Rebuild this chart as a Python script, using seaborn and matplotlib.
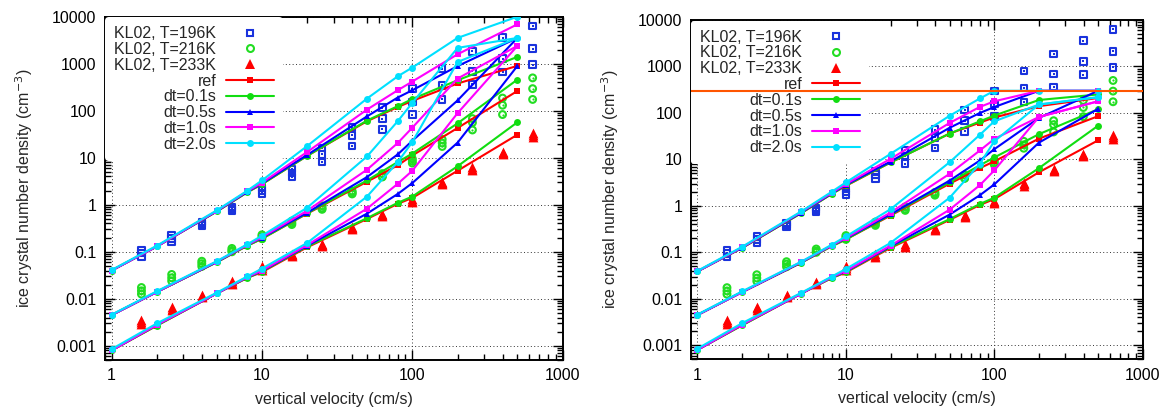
import numpy as np
import pandas as pd
import matplotlib
matplotlib.use("Agg")
import matplotlib.pyplot as plt
import seaborn as sns
from matplotlib.lines import Line2D
from matplotlib.ticker import FixedLocator, FixedFormatter, LogLocator, NullFormatter

sns.set_theme(style="ticks")
plt.rcParams["font.family"] = ["Liberation Sans", "DejaVu Sans"]

# ---------------- data ----------------
velocity = [1, 2, 5, 8, 10, 20, 50, 80, 100, 200, 500]
series_names = ["ref", "dt=0.1s", "dt=0.5s", "dt=1.0s", "dt=2.0s"]
temps = ["196K", "216K", "233K"]

# left panel (no cap)
ref_L_196 = [0.040, 0.13, 0.72, 1.85, 2.75, 11.0, 60, 120, 162, 380, 900]
dt01_L_196 = [0.040, 0.13, 0.72, 1.85, 2.75, 11.0, 62, 125, 178, 445, 1400]
dt05_L_196 = [0.040, 0.13, 0.73, 1.9, 2.85, 11.5, 76, 191, 273, 890, 3540]
dt10_L_196 = [0.040, 0.13, 0.74, 1.95, 2.95, 13.3, 106, 273, 418, 1590, 6900]
dt20_L_196 = [0.041, 0.135, 0.76, 2.0, 3.3, 17.8, 182, 540, 830, 3540, 10000]

ref_L_216 = [0.0045, 0.014, 0.06, 0.135, 0.19, 0.65, 3.1, 6.9, 11.2, 43, 264]
dt01_L_216 = [0.0045, 0.014, 0.06, 0.135, 0.19, 0.66, 3.3, 8.1, 12.3, 54, 460]
dt05_L_216 = [0.0045, 0.014, 0.061, 0.14, 0.20, 0.68, 3.9, 11.8, 23, 166, 3540]
dt10_L_216 = [0.0045, 0.014, 0.062, 0.14, 0.205, 0.75, 5.6, 20.6, 43.7, 484, 2400]
dt20_L_216 = [0.0046, 0.0145, 0.063, 0.145, 0.22, 0.87, 10.7, 60, 147, 2170, 3540]

ref_L_233 = [0.0008, 0.0027, 0.013, 0.028, 0.037, 0.125, 0.5, 1.05, 1.4, 5.3, 31]
dt01_L_233 = [0.0008, 0.0027, 0.013, 0.028, 0.038, 0.13, 0.52, 1.1, 1.5, 6.6, 57]
dt05_L_233 = [0.0008, 0.0028, 0.013, 0.029, 0.039, 0.135, 0.65, 1.7, 2.9, 21, 900]
dt10_L_233 = [0.0008, 0.0028, 0.013, 0.029, 0.040, 0.14, 0.83, 2.8, 5.3, 89, 2400]
dt20_L_233 = [0.00085, 0.003, 0.0135, 0.03, 0.044, 0.155, 1.5, 8.1, 21.6, 1090, 3540]

# right panel (with cap)
ref_R_196 = [0.039, 0.125, 0.70, 1.8, 2.7, 8.6, 36, 62, 80, 140, 210]
dt01_R_196 = [0.039, 0.125, 0.70, 1.8, 2.75, 8.6, 36, 66, 88, 190, 250]
dt05_R_196 = [0.039, 0.127, 0.72, 1.85, 2.85, 9.0, 48, 100, 134, 300, 300]
dt10_R_196 = [0.039, 0.128, 0.74, 1.9, 2.95, 10.3, 61, 135, 178, 300, 300]
dt20_R_196 = [0.040, 0.132, 0.76, 2.0, 3.2, 13.2, 87, 205, 300, 300, 300]

ref_R_216 = [0.0045, 0.014, 0.06, 0.135, 0.19, 0.62, 3.0, 6.5, 9.1, 28, 85]
dt01_R_216 = [0.0045, 0.014, 0.06, 0.135, 0.19, 0.64, 3.2, 7.5, 11, 35, 120]
dt05_R_216 = [0.0045, 0.014, 0.061, 0.14, 0.2, 0.66, 3.5, 9.5, 16.6, 78, 300]
dt10_R_216 = [0.0045, 0.014, 0.062, 0.14, 0.205, 0.72, 4.9, 15.6, 27.6, 82, 178]
dt20_R_216 = [0.0046, 0.0145, 0.063, 0.145, 0.22, 0.85, 8.7, 34, 66, 152, 218]

ref_R_233 = [0.0008, 0.0027, 0.013, 0.028, 0.037, 0.125, 0.5, 1.05, 1.4, 5.3, 25.7]
dt01_R_233 = [0.0008, 0.0027, 0.013, 0.028, 0.038, 0.13, 0.52, 1.1, 1.5, 6.5, 53]
dt05_R_233 = [0.0008, 0.0028, 0.013, 0.029, 0.039, 0.135, 0.65, 1.7, 2.9, 23, 122]
dt10_R_233 = [0.0008, 0.0028, 0.013, 0.029, 0.040, 0.14, 0.83, 2.8, 5.8, 82, 178]
dt20_R_233 = [0.00085, 0.003, 0.0135, 0.03, 0.044, 0.16, 1.5, 8.1, 24.5, 152, 218]

cap_value = 300

# KL02 reference data
kl_velocity = [1.58, 2.51, 3.98, 6.31, 10, 15.8, 25.1, 39.8, 63.1, 100, 158, 251, 398, 631]
kl196_hi = [0.11, 0.22, 0.43, 0.90, 2.3, 5.7, 16, 44, 117, 294, 790, 1840, 3600, 6300]
kl196_mid = [0.095, 0.19, 0.40, 0.83, 2.0, 4.7, 11.8, 30, 68, 154, 345, 690, 1290, 2100]
kl196_lo = [0.08, 0.16, 0.36, 0.76, 1.75, 3.9, 8.1, 17.7, 40, 83, 174, 363, 670, 960]
kl216_hi = [0.0174, 0.033, 0.063, 0.118, 0.23, 0.45, 0.95, 1.95, 4.6, 9.5, 24.5, 68, 186, 500]
kl216_mid = [0.0148, 0.028, 0.056, 0.107, 0.21, 0.41, 0.85, 1.8, 4.0, 8.5, 20.6, 56, 131, 295]
kl216_lo = [0.0126, 0.024, 0.049, 0.100, 0.19, 0.38, 0.80, 1.7, 3.9, 7.7, 17.4, 39, 83, 174]
kl233_hi = [0.0035, 0.0067, 0.0123, 0.0234, 0.051, 0.09, 0.15, 0.34, 0.65, 1.3, 3.1, 6.3, 13.2, 34]
kl233_mid = [0.0032, 0.0062, 0.0116, 0.022, 0.046, 0.085, 0.14, 0.32, 0.61, 1.22, 2.9, 5.9, 12.4, 30]
kl233_lo = [0.0029, 0.0057, 0.011, 0.021, 0.041, 0.08, 0.13, 0.30, 0.58, 1.15, 2.7, 5.5, 11.8, 27]

y_ticks = [0.001, 0.01, 0.1, 1, 10, 100, 1000, 10000]
y_tick_labels = ["0.001", "0.01", "0.1", "1", "10", "100", "1000", "10000"]
x_ticks = [1, 10, 100, 1000]
x_tick_labels = ["1", "10", "100", "1000"]

# ---------------- tables ----------------
model = {
    "L": {"196K": [ref_L_196, dt01_L_196, dt05_L_196, dt10_L_196, dt20_L_196],
          "216K": [ref_L_216, dt01_L_216, dt05_L_216, dt10_L_216, dt20_L_216],
          "233K": [ref_L_233, dt01_L_233, dt05_L_233, dt10_L_233, dt20_L_233]},
    "R": {"196K": [ref_R_196, dt01_R_196, dt05_R_196, dt10_R_196, dt20_R_196],
          "216K": [ref_R_216, dt01_R_216, dt05_R_216, dt10_R_216, dt20_R_216],
          "233K": [ref_R_233, dt01_R_233, dt05_R_233, dt10_R_233, dt20_R_233]},
}
rows = []
for panel, groups in model.items():
    for t, lists in groups.items():
        for name, vals in zip(series_names, lists):
            for v, n in zip(velocity, vals):
                rows.append(dict(panel=panel, temp=t, series=name, v=v, n=n))
df = pd.DataFrame(rows)

kl_rows = []
for t, sets in zip(temps, [[kl196_hi, kl196_mid, kl196_lo],
                           [kl216_hi, kl216_mid, kl216_lo],
                           [kl233_hi, kl233_mid, kl233_lo]]):
    for s in sets:
        for v, n in zip(kl_velocity, s):
            kl_rows.append(dict(temp=t, v=v, n=n))
kl = pd.DataFrame(kl_rows)

# ---------------- style ----------------
line_colors = {"ref": "#ff0000", "dt=0.1s": "#11dd11", "dt=0.5s": "#0000ff",
               "dt=1.0s": "#ff00ff", "dt=2.0s": "#00e0ff"}
line_markers = {"ref": "s", "dt=0.1s": "o", "dt=0.5s": "^", "dt=1.0s": "s", "dt=2.0s": "o"}
kl_colors = {"196K": "#1a33dd", "216K": "#22dd22", "233K": "#ff0000"}

W, H = 1164, 408
fig = plt.figure(figsize=(W / 100, H / 100), dpi=100)
axL = fig.add_axes([104.7 / W, 1 - 360 / H, (562.7 - 104.7) / W, (360 - 16.7) / H])
axR = fig.add_axes([690.7 / W, 1 - 359.3 / H, (1142.7 - 690.7) / W, (359.3 - 20) / H])

FS = 11.5


def draw(ax, panel, cap=None):
    ax.set_xscale("log")
    ax.set_yscale("log")
    ax.set_xlim(0.9, 1000)
    ax.set_ylim(0.0005, 10000)
    ax.set_axisbelow(True)
    ax.grid(which="major", color="#333333", ls=(0, (1, 2.5)), lw=0.7)

    # KL02 data
    sub = kl[kl.temp == "196K"]
    sns.scatterplot(data=sub, x="v", y="n", marker="s", s=22, facecolor="none",
                    edgecolor=kl_colors["196K"], linewidth=1.5, ax=ax, legend=False, zorder=3)
    sns.scatterplot(data=sub, x="v", y="n", marker="s", s=2.5, color=kl_colors["196K"],
                    linewidth=0, ax=ax, legend=False, zorder=3)
    sub = kl[kl.temp == "216K"]
    sns.scatterplot(data=sub, x="v", y="n", marker="o", s=24, facecolor="none",
                    edgecolor=kl_colors["216K"], linewidth=1.5, ax=ax, legend=False, zorder=3)
    sns.scatterplot(data=sub, x="v", y="n", marker="o", s=2.5, color=kl_colors["216K"],
                    linewidth=0, ax=ax, legend=False, zorder=3)
    sub = kl[kl.temp == "233K"]
    sns.scatterplot(data=sub, x="v", y="n", marker="^", s=50, color=kl_colors["233K"],
                    linewidth=0, ax=ax, legend=False, zorder=3)

    # model lines
    d = df[df.panel == panel]
    sns.lineplot(data=d, x="v", y="n", hue="series", style="series", units="temp",
                 estimator=None, hue_order=series_names, style_order=series_names,
                 palette=line_colors, markers=line_markers, dashes=False,
                 lw=1.5, markersize=5, markeredgewidth=0, sort=False,
                 legend=False, ax=ax, zorder=4)

    if cap is not None:
        ax.axhline(cap, color="#ff5500", lw=1.5, zorder=7)

    ax.xaxis.set_major_locator(FixedLocator(x_ticks))
    ax.xaxis.set_major_formatter(FixedFormatter(x_tick_labels))
    ax.yaxis.set_major_locator(FixedLocator(y_ticks))
    ax.yaxis.set_major_formatter(FixedFormatter(y_tick_labels))
    ax.xaxis.set_minor_locator(LogLocator(base=10, subs=np.arange(2, 10), numticks=20))
    ax.yaxis.set_minor_locator(LogLocator(base=10, subs=np.arange(2, 10), numticks=20))
    ax.xaxis.set_minor_formatter(NullFormatter())
    ax.yaxis.set_minor_formatter(NullFormatter())
    ax.tick_params(which="both", direction="in", top=True, right=True,
                   labelsize=FS, colors="black", width=1.0, pad=6)
    ax.tick_params(which="major", length=7)
    ax.tick_params(which="minor", length=4)
    for sp in ax.spines.values():
        sp.set_linewidth(1.4)
        sp.set_color("black")
    ax.set_xlabel("vertical velocity (cm/s)", fontsize=FS, labelpad=6)
    ax.set_ylabel("ice crystal number density (cm$^{-3}$)", fontsize=FS, labelpad=12)

    handles = [
        Line2D([], [], ls="none", marker="s", ms=5, mfc="none", mec=kl_colors["196K"], mew=1.5),
        Line2D([], [], ls="none", marker="o", ms=5, mfc="none", mec=kl_colors["216K"], mew=1.5),
        Line2D([], [], ls="none", marker="^", ms=7, color=kl_colors["233K"], mew=0),
    ]
    labels = ["KL02, T=196K", "KL02, T=216K", "KL02, T=233K"]
    for name in series_names:
        handles.append(Line2D([], [], color=line_colors[name], lw=1.5,
                              marker=line_markers[name], ms=5, mew=0))
        labels.append(name)
    leg = ax.legend(handles, labels, loc="upper left", bbox_to_anchor=(0, 1),
                    markerfirst=False, frameon=True, fontsize=FS,
                    borderaxespad=0.05, borderpad=0.55, handlelength=3.0,
                    handletextpad=0.6, labelspacing=0.05)
    leg.get_frame().set_facecolor("white")
    leg.get_frame().set_edgecolor("none")
    leg.get_frame().set_alpha(1.0)
    leg.set_zorder(6)


draw(axL, "L")
draw(axR, "R", cap=cap_value)

fig.savefig("out.png", dpi=100)
